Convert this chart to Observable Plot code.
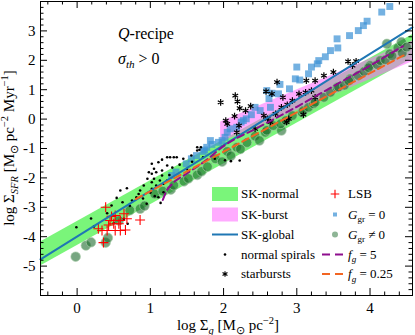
<!DOCTYPE html>
<html><head><meta charset="utf-8">
<script src="https://cdn.jsdelivr.net/npm/d3@7"></script>
<script src="https://cdn.jsdelivr.net/npm/@observablehq/plot@0.6"></script>
<style>
body{margin:0;background:#fff;}
#chart{position:relative;width:415px;height:335px;}
svg text{white-space:pre;}
</style></head><body><div id="chart"></div>
<script>
// ---------- axes ----------
const xDomain = [-0.5, 4.58];
const yDomain = [-6, 4];
const xTickLabels = [0, 1, 2, 3, 4];
const yTickLabels = [-5, -4, -3, -2, -1, 0, 1, 2, 3];

// ---------- relations (bands & lines) ----------
const skNormalX = [-0.5, 4.58];
const skNormalLo = [-5.0, 2.05];
const skNormalHi = [-4.18, 2.87];
const skBurstX = [1.96, 4.58];
const skBurstLo = [-0.8, 1.95];
const skBurstHi = [-0.1, 2.65];
const skGlobalX = [-0.5, 4.58];
const skGlobalY = [-4.77, 3.12];
const fg5 = [[1.17,-2.75],[1.22,-2.45],[1.30,-2.20],[1.50,-1.85],[1.75,-1.42],[2.0,-0.92],[2.5,-0.25],[3.0,0.42],[3.5,1.12],[4.0,1.82],[4.45,2.48]];
const fg025 = [[0.80,-2.72],[1.5,-1.78],[2.0,-1.11],[2.5,-0.44],[3.0,0.23],[3.5,0.90],[4.0,1.56],[4.5,2.22]];

// ---------- scatter data ----------
const normalSpirals = [[-0.01,-3.68],[0.19,-3.38],[0.23,-3.65],[0.41,-3.20],[0.47,-2.94],[0.54,-2.68],[0.50,-3.54],[0.62,-2.83],[0.69,-3.56],[0.64,-3.39],[0.68,-2.35],[0.59,-2.43],[0.72,-2.95],[0.75,-2.77],[0.81,-2.66],[0.84,-2.55],[0.86,-2.43],[0.90,-2.70],[0.91,-2.26],[0.95,-2.88],[0.96,-2.03],[0.98,-1.81],[1.00,-2.50],[1.02,-1.52],[1.02,-1.86],[1.02,-2.15],[1.02,-2.37],[1.05,-1.69],[1.05,-2.03],[1.06,-2.62],[1.08,-1.81],[1.08,-2.26],[1.11,-1.47],[1.11,-2.66],[1.13,-2.09],[1.14,-2.85],[1.16,-1.38],[1.16,-1.75],[1.16,-1.92],[1.18,-2.20],[1.18,-2.49],[1.23,-1.30],[1.23,-1.58],[1.23,-2.09],[1.26,-1.90],[1.27,-1.30],[1.30,-1.65],[1.32,-1.30],[1.36,-1.30],[1.40,-1.55],[1.45,-1.35],[1.50,-1.70],[1.56,-1.24],[1.57,-1.45],[1.64,-0.96],[1.64,-1.07],[1.67,-1.04],[1.69,-0.96],[1.72,-1.30],[1.88,-1.35],[2.02,-1.40],[2.10,-1.43],[2.22,-1.41]];
const starbursts = [[1.96,0.57],[2.16,0.80],[2.19,0.60],[2.22,0.37],[2.37,0.44],[2.30,0.29],[2.73,1.26],[2.58,0.94],[2.66,0.86],[2.81,0.74],[2.15,0.10],[2.03,-0.05],[2.05,-0.16],[2.21,-0.22],[2.18,-0.45],[2.55,0.12],[2.60,0.01],[2.64,-0.10],[2.71,0.18],[2.87,0.49],[2.94,0.63],[3.03,0.86],[3.12,0.91],[3.20,0.97],[3.25,1.31],[3.37,1.48],[3.50,1.60],[3.70,1.96],[3.81,1.97],[3.76,1.82],[3.09,0.15],[2.89,0.01],[2.79,0.40],[3.25,0.74],[2.86,-0.10],[3.13,1.31],[2.43,-0.33]];
const lsb = [[0.39,-3.00],[0.47,-3.31],[0.52,-3.28],[0.45,-3.45],[0.43,-3.60],[0.50,-3.56],[0.57,-3.56],[0.59,-3.45],[0.68,-3.39],[0.64,-3.22],[0.29,-3.73],[0.34,-3.79],[0.41,-3.79],[0.52,-3.79],[0.59,-3.79],[0.66,-3.77],[0.36,-4.20],[0.86,-3.43]];
const ggr0 = [[4.27,3.83],[4.16,3.64],[3.96,3.33],[3.91,3.18],[3.84,3.01],[3.72,2.84],[3.55,2.73],[3.56,2.42],[3.46,2.33],[3.39,2.12],[3.30,1.99],[3.28,1.88],[3.16,1.54],[3.20,1.77],[3.00,1.77],[3.04,1.33],[2.98,1.37],[2.90,1.03],[2.77,1.18],[2.66,0.88],[2.75,0.86],[2.62,0.70],[2.59,0.97],[2.64,0.40],[2.50,0.29],[2.43,0.40],[2.38,0.15],[2.31,0.01],[2.27,-0.05],[2.18,-0.28],[2.24,-0.10],[2.09,-0.33],[2.05,-0.45],[2.02,-0.62],[1.98,-0.73],[1.93,-0.79],[1.82,-0.73],[1.84,-0.86],[1.74,-1.05],[1.77,-0.96],[1.72,-1.10],[1.63,-1.24],[1.56,-1.35],[1.49,-1.52],[1.35,-1.80],[1.29,-1.92]];
const ggrNot0 = [[-0.02,-4.68],[0.12,-4.30],[0.19,-4.19],[0.39,-4.20],[0.42,-4.04],[0.57,-3.45],[0.72,-3.10],[0.86,-3.05],[0.92,-2.95],[1.06,-2.55],[1.17,-2.45],[1.28,-2.40],[1.32,-2.25],[1.46,-2.12],[1.52,-2.02],[1.64,-1.90],[1.70,-1.78],[1.78,-1.62],[1.89,-1.35],[1.98,-1.45],[2.05,-1.10],[2.10,-1.25],[2.18,-0.96],[2.23,-1.02],[2.32,-0.80],[2.43,-0.58],[2.49,-0.73],[2.57,-0.45],[2.59,-0.38],[2.68,-0.22],[2.79,-0.39],[2.78,-0.16],[2.85,-0.05],[2.94,0.12],[3.07,0.23],[3.09,0.29],[3.16,0.40],[3.23,0.52],[3.25,0.57],[3.37,0.74],[3.46,0.91],[3.55,1.08],[3.57,1.09],[3.65,1.15],[3.73,1.37],[3.71,1.30],[3.84,1.48],[3.92,1.62],[4.00,1.82],[3.98,1.75],[4.10,1.85],[4.14,1.99],[4.21,2.02],[4.23,2.56],[4.27,2.22],[4.30,2.15],[4.38,2.42],[4.43,2.62],[4.44,2.25],[4.50,2.45]];

// ---------- legend labels ----------
const legendCol1 = ["SK-normal", "SK-burst", "SK-global", "normal spirals", "starbursts"];
const annot1 = [["Q","i"],["-recipe",""]];
const annot2 = [["σ","i"],["th","isub"],[" > 0",""]];

// ---------- colours ----------
const cGreen = "#22ee22", cPink = "#ff66ff", cBlue = "#1f77b4", cSq = "#3f93d6", cCirc = "#1d6b2d", cPurple = "#8e0e8e", cOrange = "#f26522";

const W = 415, H = 335, ML = 40, MR = 3, MT = 1, MB = 40;
const pxX = (W - ML - MR) / (xDomain[1] - xDomain[0]);
const pxY = (H - MT - MB) / (yDomain[1] - yDomain[0]);
const majLen = 7, minLen = 3.5;
const xMajor = xTickLabels;
const yMajor = yTickLabels;
const xMinor = d3.range(-2, 23).filter(i => i % 5 !== 0).map(i => i / 5);
const yMinor = d3.range(-29, 20).filter(i => i % 5 !== 0).map(i => i / 5);

const band = (xs, lo, hi) => xs.map((x, i) => ({x, lo: lo[i], hi: hi[i]}));
const skGlobal = skGlobalX.map((x, i) => ({x, y: skGlobalY[i]}));

function ticks(xs, ys, len) {
  return [
    Plot.ruleX(xs, {x: d => d, y1: yDomain[0], y2: yDomain[0] + len / pxY, stroke: "black"}),
    Plot.ruleX(xs, {x: d => d, y1: yDomain[1], y2: yDomain[1] - len / pxY, stroke: "black"}),
    Plot.ruleY(ys, {y: d => d, x1: xDomain[0], x2: xDomain[0] + len / pxX, stroke: "black"}),
    Plot.ruleY(ys, {y: d => d, x1: xDomain[1], x2: xDomain[1] - len / pxX, stroke: "black"})
  ];
}

const chart = Plot.plot({
  width: W, height: H,
  marginLeft: ML, marginRight: MR, marginTop: MT, marginBottom: MB,
  x: {domain: xDomain},
  y: {domain: yDomain},
  style: {fontFamily: "'Liberation Serif', serif", fontSize: "15px", background: "white"},
  marks: [
    Plot.areaY(band(skNormalX, skNormalLo, skNormalHi), {x: "x", y1: "lo", y2: "hi", fill: cGreen, fillOpacity: 0.6}),
    Plot.areaY(band(skBurstX, skBurstLo, skBurstHi), {x: "x", y1: "lo", y2: "hi", fill: cPink, fillOpacity: 0.55}),
    Plot.dot(ggrNot0, {x: d => d[0], y: d => d[1], r: 4.8, fill: cCirc, fillOpacity: 0.6, stroke: "#a8cca8", strokeWidth: 0.8, strokeOpacity: 0.8}),
    Plot.dot(ggr0, {x: d => d[0], y: d => d[1], symbol: "square", r: 3.9, fill: cSq, fillOpacity: 0.72}),
    Plot.dot(normalSpirals, {x: d => d[0], y: d => d[1], r: 1.3, fill: "black"}),
    Plot.dot(lsb, {x: d => d[0], y: d => d[1], symbol: "plus", r: 3.3, stroke: "red", strokeWidth: 1.1}),
    Plot.dot(starbursts, {x: d => d[0], y: d => d[1], symbol: "asterisk", r: 3.1, stroke: "black", strokeWidth: 1.2}),
    Plot.line(skGlobal, {x: "x", y: "y", stroke: cBlue, strokeWidth: 2}),
    Plot.line(fg5, {x: d => d[0], y: d => d[1], stroke: cPurple, strokeWidth: 2, strokeDasharray: "7,4", curve: "monotone-x"}),
    Plot.line(fg025, {x: d => d[0], y: d => d[1], stroke: cOrange, strokeWidth: 2, strokeDasharray: "7,4"}),
    ...ticks(xMajor, yMajor, majLen),
    ...ticks(xMinor, yMinor, minLen),
    Plot.frame({stroke: "black", strokeWidth: 1}),
    Plot.axisX({ticks: xTickLabels, tickSize: 0, tickPadding: 7, label: null, tickFormat: d => String(d)}),
    Plot.axisY({ticks: yTickLabels, tickSize: 0, tickPadding: 5, label: null, tickFormat: d => d < 0 ? "-" + Math.abs(d) : String(d)})
  ]
});
document.getElementById("chart").appendChild(chart);

// ---------- rich text (labels, annotations, legend) ----------
const svg = d3.select(chart);
const g = svg.append("g").attr("font-family", "'Liberation Serif', serif").attr("fill", "black");
function rich(x, y, parts, {size = 13, anchor = "start", rotate = 0} = {}) {
  const t = g.append("text").attr("font-size", size).attr("text-anchor", anchor);
  if (rotate) t.attr("transform", `translate(${x},${y}) rotate(${rotate})`);
  else t.attr("x", x).attr("y", y);
  let shift = 0;
  for (const [s, st] of parts) {
    const ts = t.append("tspan").text(s);
    const isSub = st.endsWith("sub"), isSup = st.endsWith("sup");
    const target = isSub ? size * 0.28 : isSup ? -size * 0.42 : 0;
    ts.attr("dy", target - shift); shift = target;
    if (isSub || isSup) ts.attr("font-size", size * 0.7);
    if (st.startsWith("i")) ts.attr("font-style", "italic");
  }
  return t;
}
const yLabel = [["log Σ",""],["SFR","isub"],[" [M",""],["⊙","sub"],[" pc",""],["−2","sup"],[" Myr",""],["−1","sup"],["]",""]];
const xLabel = [["log Σ",""],["g","isub"],[" [M",""],["⊙","sub"],[" pc",""],["−2","sup"],["]",""]];
rich(14, 148, yLabel, {size: 15, anchor: "middle", rotate: -90});
rich(228, 330, xLabel, {size: 15, anchor: "middle"});
rich(118, 39, annot1, {size: 16});
rich(118, 64, annot2, {size: 16});

// legend
const rowsY = [194, 214.5, 234.5, 254.5, 274];
const lg = svg.append("g");
lg.append("rect").attr("x", 212).attr("y", rowsY[0] - 7).attr("width", 26).attr("height", 14).attr("fill", cGreen).attr("fill-opacity", 0.6);
lg.append("rect").attr("x", 212).attr("y", rowsY[1] - 7).attr("width", 26).attr("height", 14).attr("fill", cPink).attr("fill-opacity", 0.55);
lg.append("line").attr("x1", 212).attr("x2", 238).attr("y1", rowsY[2]).attr("y2", rowsY[2]).attr("stroke", cBlue).attr("stroke-width", 2);
lg.append("circle").attr("cx", 225).attr("cy", rowsY[3]).attr("r", 1.3).attr("fill", "black");
lg.append("path").attr("d", d3.symbol(d3.symbolAsterisk, 22)()).attr("transform", `translate(225,${rowsY[4]})`).attr("stroke", "black").attr("stroke-width", 1.1).attr("fill", "none");
lg.append("path").attr("d", d3.symbol(d3.symbolPlus, 26)()).attr("transform", `translate(335,${rowsY[0]})`).attr("stroke", "red").attr("stroke-width", 1.1).attr("fill", "none");
lg.append("rect").attr("x", 333).attr("y", rowsY[1] - 2).attr("width", 4).attr("height", 4).attr("fill", cSq).attr("fill-opacity", 0.72);
lg.append("circle").attr("cx", 335).attr("cy", rowsY[2]).attr("r", 3).attr("fill", cCirc).attr("fill-opacity", 0.5);
lg.append("line").attr("x1", 322).attr("x2", 344).attr("y1", rowsY[3]).attr("y2", rowsY[3]).attr("stroke", cPurple).attr("stroke-width", 2).attr("stroke-dasharray", "8,5");
lg.append("line").attr("x1", 322).attr("x2", 344).attr("y1", rowsY[4]).attr("y2", rowsY[4]).attr("stroke", cOrange).attr("stroke-width", 2).attr("stroke-dasharray", "8,5");
legendCol1.forEach((s, i) => rich(241, rowsY[i] + 4, [[s, ""]], {size: 13}));
rich(348, rowsY[0] + 4, [["LSB", ""]], {size: 13});
rich(348, rowsY[1] + 4, [["G","i"],["gr","sub"],[" = 0",""]], {size: 13});
rich(348, rowsY[2] + 4, [["G","i"],["gr","sub"],[" ≠ 0",""]], {size: 13});
rich(348, rowsY[3] + 4, [["f","i"],["g","isub"],[" = 5",""]], {size: 13});
rich(348, rowsY[4] + 4, [["f","i"],["g","isub"],[" = 0.25",""]], {size: 13});
</script></body></html>
